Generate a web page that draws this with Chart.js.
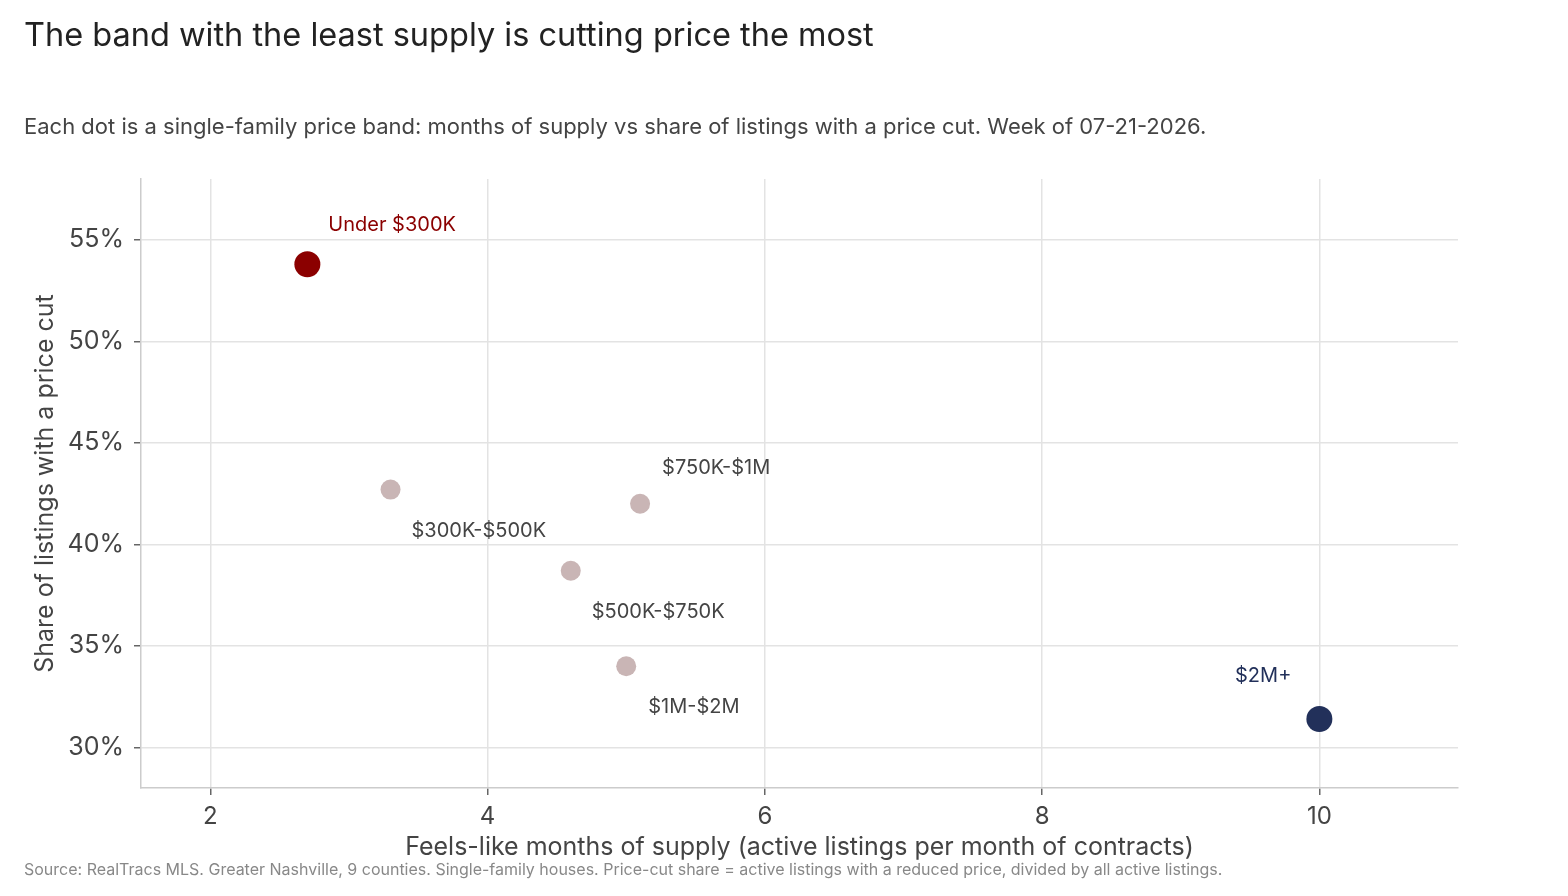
<!DOCTYPE html>
<html>
<head>
<meta charset="utf-8">
<script src="https://cdn.jsdelivr.net/npm/chart.js@4.4.0/dist/chart.umd.min.js"></script>
<style>
    html, body { margin: 0; padding: 0; background: #fff; }
    body { width: 1568px; height: 896px; position: relative; overflow: hidden; font-family: Inter, "Liberation Sans", Arial, sans-serif; }
    #title { position: absolute; left: 24px; top: 14.5px; font-size: 32.5px; color: #222; white-space: nowrap; }
    #subtitle { position: absolute; left: 24px; top: 112.5px; font-size: 22px; color: #444; white-space: nowrap; }
    #source { position: absolute; left: 24px; top: 859px; font-size: 16px; color: #888; white-space: nowrap; }
    #wrap { position: absolute; left: 0; top: 0; width: 1568px; height: 896px; }
</style>
</head>
<body>
<div id="wrap"><canvas id="scatterChart" width="1568" height="896"></canvas></div>
<div id="title">The band with the least supply is cutting price the most</div>
<div id="subtitle">Each dot is a single-family price band: months of supply vs share of listings with a price cut. Week of 07-21-2026.</div>
<div id="source">Source: RealTracs MLS. Greater Nashville, 9 counties. Single-family houses. Price-cut share = active listings with a reduced price, divided by all active listings.</div>

<script>
// Price bands and values
const bands = ["Under $300K", "$300K-$500K", "$500K-$750K", "$750K-$1M", "$1M-$2M", "$2M+"];
const monthsOfSupply = [2.7, 3.3, 4.6, 5.1, 5.0, 10.0];
const priceCutShare = [53.8, 42.7, 38.7, 42.0, 34.0, 31.4];

const xTicks = [2, 4, 6, 8, 10];
const yTicks = [30, 35, 40, 45, 50, 55];

// Styling per band
const dotColors = ["#8b0000", "#c9b5b5", "#c9b5b5", "#c9b5b5", "#c9b5b5", "#22305a"];
const dotRadius = [13, 10, 10, 10, 10, 13];
const labelColors = ["#8b0000", "#444", "#444", "#444", "#444", "#22305a"];
// label offset from dot centre: dx, dy, align
const labelOffsets = [
    [21, -39, "left"],
    [21, 41, "left"],
    [21, 41, "left"],
    [22, -36, "left"],
    [22, 41, "left"],
    [-28, -43, "right"],
];

const FONT = "Inter, 'Liberation Sans', Arial, sans-serif";

// Draw band names next to each dot
const bandLabels = {
    id: "bandLabels",
    afterDatasetsDraw(chart) {
        const ctx = chart.ctx;
        const meta = chart.getDatasetMeta(0);
        ctx.save();
        ctx.font = "20px " + FONT;
        ctx.textBaseline = "middle";
        meta.data.forEach((pt, i) => {
            const [dx, dy, align] = labelOffsets[i];
            ctx.fillStyle = labelColors[i];
            ctx.textAlign = align;
            ctx.fillText(bands[i], pt.x + dx, pt.y + dy);
        });
        ctx.restore();
    }
};

const ctx = document.getElementById("scatterChart").getContext("2d");

new Chart(ctx, {
    type: "scatter",
    data: {
        datasets: [{
            data: monthsOfSupply.map((x, i) => ({ x: x, y: priceCutShare[i] })),
            backgroundColor: dotColors,
            borderWidth: 0,
            pointRadius: dotRadius,
            clip: false,
        }]
    },
    options: {
        responsive: false,
        animation: false,
        events: [],
        layout: { padding: { top: 179, right: 110, left: 0, bottom: 0 } },
        plugins: {
            legend: { display: false },
            tooltip: { enabled: false },
        },
        scales: {
            x: {
                type: "linear",
                min: 1.5,
                max: 11,
                afterBuildTicks: (scale) => { scale.ticks = xTicks.map(v => ({ value: v })); },
                afterFit: (scale) => { scale.height = 108; },
                grid: { color: "#e3e3e3", lineWidth: 1.5, tickColor: "#666", tickLength: 7 },
                border: { color: "#cccccc", width: 1.5 },
                ticks: { color: "#444", font: { family: FONT, size: 24 }, padding: 7 },
                title: {
                    display: true,
                    text: "Feels-like months of supply (active listings per month of contracts)",
                    color: "#444",
                    font: { family: FONT, size: 25 },
                    padding: { top: 0, bottom: 34 },
                },
            },
            y: {
                type: "linear",
                min: 28,
                max: 58,
                afterBuildTicks: (scale) => { scale.ticks = yTicks.map(v => ({ value: v })); },
                afterFit: (scale) => { scale.width = 141; },
                grid: { color: "#e3e3e3", lineWidth: 1.5, tickColor: "#666", tickLength: 7 },
                border: { color: "#cccccc", width: 1.5 },
                ticks: {
                    color: "#444",
                    font: { family: FONT, size: 25 },
                    padding: 10,
                    callback: (v) => v + "%",
                },
                title: {
                    display: true,
                    text: "Share of listings with a price cut",
                    color: "#444",
                    font: { family: FONT, size: 25 },
                    padding: { top: 30, bottom: 0 },
                },
            },
        },
    },
    plugins: [bandLabels],
});
</script>
</body>
</html>
